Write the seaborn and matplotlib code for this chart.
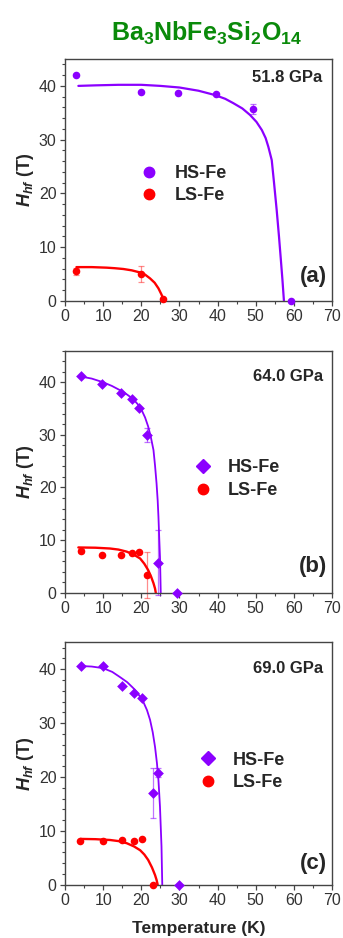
import matplotlib
matplotlib.use("Agg")
import matplotlib.pyplot as plt
from matplotlib.lines import Line2D
from matplotlib.ticker import MultipleLocator
import seaborn as sns

# ---------------- data ----------------
panel_labels = ["(a)", "(b)", "(c)"]
pressures = ["51.8 GPa", "64.0 GPa", "69.0 GPa"]
series_names = ["HS-Fe", "LS-Fe"]
hs_markers = ["o", "D", "D"]

# (a) 51.8 GPa
T_a_hs = [3.0, 19.8, 29.5, 39.5, 49.4, 59.3]
H_a_hs = [42.0, 38.9, 38.6, 38.5, 35.7, 0.0]
E_a_hs = [0.0, 0.0, 0.0, 0.0, 0.9, 0.0]
T_a_ls = [3.0, 19.8, 25.6]
H_a_ls = [5.5, 5.1, 0.3]
E_a_ls = [0.7, 1.5, 0.0]
fitT_a_hs = [3.5, 8.0, 14.0, 20.0, 25.0, 30.0, 35.0, 39.3, 42.0, 44.1, 46.5, 48.5,
             50.2, 51.6, 52.6, 53.3, 54.2, 54.8, 55.5, 56.1, 56.6, 57.0, 57.4]
fitH_a_hs = [40.0, 40.1, 40.2, 40.2, 40.0, 39.7, 39.1, 38.3, 37.6, 36.8, 35.8, 34.6,
             33.3, 31.8, 30.3, 28.7, 26.2, 22.0, 16.9, 12.0, 7.6, 4.0, 0.0]
fitT_a_ls = [3.0, 7.0, 10.9, 13.0, 15.3, 17.5, 19.7, 21.0, 22.3, 23.5, 24.5, 25.3, 26.0]
fitH_a_ls = [6.3, 6.3, 6.2, 6.1, 5.95, 5.7, 5.3, 4.9, 4.2, 3.4, 2.35, 1.2, 0.0]

# (b) 64.0 GPa
T_b_hs = [4.1, 9.8, 14.6, 17.5, 19.5, 21.4, 24.3, 29.3]
H_b_hs = [41.1, 39.6, 37.9, 36.8, 35.2, 30.0, 5.7, 0.0]
E_b_hs = [0.0, 0.0, 0.0, 0.0, 0.0, 1.4, 6.2, 0.0]
T_b_ls = [4.1, 9.8, 14.6, 17.5, 19.5, 21.4]
H_b_ls = [8.0, 7.2, 7.2, 7.6, 7.7, 3.3]
E_b_ls = [0.4, 0.0, 0.0, 0.0, 0.0, 4.4]
fitT_b_hs = [4.1, 7.0, 10.0, 12.3, 14.4, 16.2, 17.9, 19.1, 20.1, 21.0, 21.8, 22.5,
             23.2, 23.6, 24.0, 24.3, 24.5, 24.7, 24.9, 25.0, 25.1]
fitH_b_hs = [41.1, 40.7, 40.0, 39.3, 38.5, 37.7, 36.8, 35.8, 34.7, 33.3, 31.6, 29.6,
             27.1, 24.2, 20.8, 17.5, 14.4, 10.5, 6.8, 3.5, 0.0]
fitT_b_ls = [3.5, 8.0, 11.8, 14.0, 16.2, 18.1, 19.7, 20.8, 21.8, 22.6, 23.2, 23.6, 23.8]
fitH_b_ls = [8.6, 8.55, 8.4, 8.2, 7.8, 7.2, 6.5, 5.5, 4.3, 3.0, 1.8, 0.8, 0.0]

# (c) 69.0 GPa
T_c_hs = [4.1, 10.0, 14.9, 18.2, 20.1, 23.0, 24.5, 30.0]
H_c_hs = [40.6, 40.6, 36.8, 35.5, 34.7, 17.0, 20.8, 0.0]
E_c_hs = [0.0, 0.0, 0.0, 0.0, 0.0, 4.6, 0.8, 0.0]
T_c_ls = [3.9, 10.0, 15.0, 18.2, 20.1, 23.0]
H_c_ls = [8.1, 8.1, 8.3, 8.1, 8.5, 0.0]
E_c_ls = [0.0, 0.0, 0.0, 0.0, 0.0, 0.0]
fitT_c_hs = [4.1, 7.0, 10.0, 12.4, 14.5, 16.3, 17.9, 19.3, 20.5, 21.5, 22.3, 23.0,
             23.6, 24.1, 24.5, 24.9, 25.1, 25.3, 25.4, 25.5]
fitH_c_hs = [40.6, 40.5, 40.2, 39.5, 38.5, 37.6, 36.5, 35.3, 34.0, 32.4, 30.6, 28.3,
             25.6, 22.6, 19.4, 14.5, 10.8, 7.1, 3.5, 0.0]
fitT_c_ls = [4.1, 8.0, 11.8, 14.0, 16.2, 18.1, 19.7, 20.8, 21.8, 22.8, 23.6, 24.0, 24.3]
fitH_c_ls = [8.5, 8.45, 8.3, 8.1, 7.7, 7.1, 6.4, 5.6, 4.6, 3.2, 1.8, 0.9, 0.0]

ylims = [45, 46, 45]

panels = [
    (T_a_hs, H_a_hs, E_a_hs, T_a_ls, H_a_ls, E_a_ls, fitT_a_hs, fitH_a_hs, fitT_a_ls, fitH_a_ls),
    (T_b_hs, H_b_hs, E_b_hs, T_b_ls, H_b_ls, E_b_ls, fitT_b_hs, fitH_b_hs, fitT_b_ls, fitH_b_ls),
    (T_c_hs, H_c_hs, E_c_hs, T_c_ls, H_c_ls, E_c_ls, fitT_c_hs, fitH_c_hs, fitT_c_ls, fitH_c_ls),
]

# ---------------- style ----------------
PURPLE = "#8B00FF"
RED = "#FF0000"
GREEN = "#0A8A0A"
AXC = "#444444"

sns.set_theme(style="ticks")
plt.rcParams["font.family"] = ["Liberation Sans", "DejaVu Sans"]
plt.rcParams["mathtext.fontset"] = "custom"
plt.rcParams["mathtext.rm"] = "Liberation Sans"
plt.rcParams["mathtext.it"] = "Liberation Sans:italic"
plt.rcParams["mathtext.bf"] = "Liberation Sans:bold"
plt.rcParams["mathtext.bfit"] = "Liberation Sans:bold:italic"
plt.rcParams["lines.solid_capstyle"] = "round"

fig = plt.figure(figsize=(3.43, 9.38), dpi=100)
fig.patch.set_facecolor("white")

W = 343.0
Hpx = 938.0
ax_left, ax_right = 65.0, 332.0
ax_boxes = [(59.0, 301.0), (350.7, 592.7), (642.3, 884.7)]

legend_pos = [(0.281, 0.481), (0.482, 0.469), (0.501, 0.468)]
gpa_pos = [(0.965, 0.924), (0.965, 0.895), (0.965, 0.893)]
lab_pos = [(0.98, 0.10), (0.98, 0.107), (0.98, 0.088)]

for i, (top, bot) in enumerate(ax_boxes):
    ax = fig.add_axes([ax_left / W, 1 - bot / Hpx, (ax_right - ax_left) / W, (bot - top) / Hpx])
    (T_hs, H_hs, E_hs, T_ls, H_ls, E_ls, fT_hs, fH_hs, fT_ls, fH_ls) = panels[i]
    mk = hs_markers[i]
    msize = 30 if mk == "o" else 30

    # fitted curves
    sns.lineplot(x=fT_hs, y=fH_hs, ax=ax, color=PURPLE, lw=1.3 if i else 1.6,
                 sort=False, estimator=None, legend=False)
    sns.lineplot(x=fT_ls, y=fH_ls, ax=ax, color=RED, lw=1.7,
                 sort=False, estimator=None, legend=False)

    # error bars
    ax.errorbar(T_hs, H_hs, yerr=E_hs, fmt="none", ecolor=PURPLE, alpha=0.55,
                elinewidth=0.9, capsize=2.5, capthick=0.9, clip_on=False)
    ax.errorbar(T_ls, H_ls, yerr=E_ls, fmt="none", ecolor=RED, alpha=0.45,
                elinewidth=0.9, capsize=2.5, capthick=0.9, clip_on=False)

    # measured points
    sns.scatterplot(x=T_hs, y=H_hs, ax=ax, marker=mk, s=msize, color=PURPLE,
                    edgecolor=PURPLE, linewidth=0, clip_on=False, zorder=4, legend=False)
    sns.scatterplot(x=T_ls, y=H_ls, ax=ax, marker="o", s=30, color=RED,
                    edgecolor=RED, linewidth=0, clip_on=False, zorder=4, legend=False)

    ax.set_xlim(0, 70)
    ax.set_ylim(0, ylims[i])
    ax.xaxis.set_major_locator(MultipleLocator(10))
    ax.xaxis.set_minor_locator(MultipleLocator(5))
    ax.yaxis.set_major_locator(MultipleLocator(10))
    ax.yaxis.set_minor_locator(MultipleLocator(2))
    ax.tick_params(which="major", direction="out", length=3.5, width=0.9,
                   color=AXC, labelsize=11.5, labelcolor="#333333", pad=2.5)
    ax.tick_params(which="minor", direction="out", length=2.2, width=0.8, color=AXC)
    for sp in ax.spines.values():
        sp.set_visible(True)
        sp.set_color(AXC)
        sp.set_linewidth(1.0)

    ax.set_ylabel(r"$\mathbfit{H}_{\mathbfit{hf}}$ (T)", fontsize=13,
                  fontweight="bold", labelpad=2)
    if i == 2:
        ax.set_xlabel("Temperature (K)", fontsize=12.5, fontweight="bold", labelpad=9)

    ax.text(gpa_pos[i][0], gpa_pos[i][1], pressures[i], transform=ax.transAxes,
            ha="right", va="center", fontsize=12, fontweight="bold")
    ax.text(lab_pos[i][0], lab_pos[i][1], panel_labels[i], transform=ax.transAxes,
            ha="right", va="center", fontsize=16, fontweight="bold")

    handles = [
        Line2D([], [], ls="none", marker=mk, color=PURPLE, markersize=7.5 if mk == "o" else 7),
        Line2D([], [], ls="none", marker="o", color=RED, markersize=7.5),
    ]
    ax.legend(handles, series_names, loc="center left",
              bbox_to_anchor=legend_pos[i], frameon=False,
              prop={"weight": "bold", "size": 13},
              handlelength=1.0, handletextpad=0.9, labelspacing=0.3,
              borderpad=0, borderaxespad=0)

fig.text(207 / W, 1 - 33 / Hpx,
         r"$\mathbf{Ba}_{\mathbf{3}}\mathbf{NbFe}_{\mathbf{3}}\mathbf{Si}_{\mathbf{2}}\mathbf{O}_{\mathbf{14}}$",
         color=GREEN, fontsize=18, ha="center", va="center")

fig.savefig("out.png", dpi=100, facecolor="white")
